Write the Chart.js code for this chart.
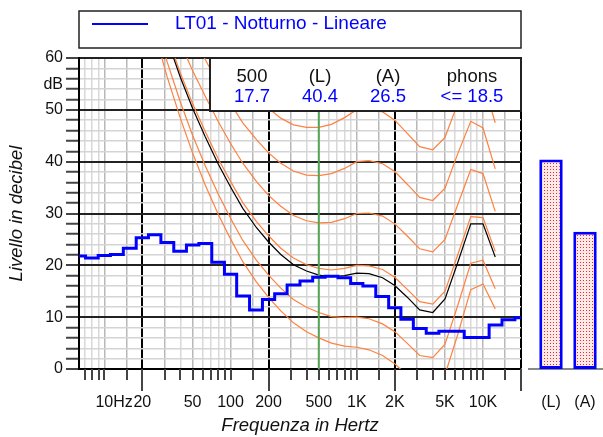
<!DOCTYPE html>
<html>
<head>
<meta charset="utf-8">
<script src="https://cdn.jsdelivr.net/npm/chart.js@4/dist/chart.umd.min.js"></script>
<style>
  html, body { margin: 0; padding: 0; background: #fff; }
  #wrap { position: relative; width: 603px; height: 437px; }
  #main { position: absolute; left: 0; top: 0; }
  #bars { position: absolute; left: 528px; top: 0; }
</style>
</head>
<body>
<div id="wrap">
  <canvas id="main" width="603" height="437"></canvas>
  <canvas id="bars" width="75" height="437"></canvas>
</div>
<script>
// third-octave spectrum (blue steps)
const bandFreqs = [6.3, 8, 10, 12.5, 16, 20, 25, 31.5, 40, 50, 63, 80, 100, 125, 160, 200, 250, 315, 400, 500,
    630, 800, 1000, 1250, 1600, 2000, 2500, 3150, 4000, 5000, 6300, 8000, 10000, 12500, 16000, 20000];
const bandLevels = [21.8, 21.4, 21.9, 22.1, 23.3, 25.3, 25.9, 24.4, 22.7, 23.9, 24.2, 20.6, 18.3, 14.1, 11.4, 13.4, 14.5, 16.2, 17.0, 17.7,
    17.9, 17.6, 16.5, 16.0, 14.0, 11.8, 9.6, 7.8, 6.9, 7.3, 7.3, 6.1, 6.1, 8.5, 9.5, 9.9];

// isophonic curves (orange) and the curve of the tonal component (black)
const isoFreqs = [20, 25, 31.5, 40, 50, 63, 80, 100, 125, 160, 200, 250, 315, 400, 500, 630, 800, 1000, 1250, 1600,
    2000, 2500, 3150, 4000, 5000, 6300, 8000, 10000, 12500];
const threshold = [74.3, 65.0, 56.3, 48.4, 41.7, 35.5, 29.8, 25.1, 20.7, 16.8, 13.8, 11.2, 8.9, 7.2, 6.0, 5.0, 4.4, 4.2, 3.7, 2.6,
    1.0, -1.2, -3.6, -3.9, -1.1, 6.6, 15.3, 16.4, 11.6];
const phon10 = [76.8, 67.7, 59.2, 51.5, 45.1, 39.2, 33.7, 29.1, 24.8, 21.0, 18.1, 15.6, 13.4, 11.9, 10.9, 10.1, 9.9, 10.0, 9.7, 8.7,
    7.2, 5.0, 2.6, 2.2, 4.8, 12.2, 20.4, 21.0, 15.5];
const phon20 = [81.3, 72.5, 64.3, 57.1, 51.2, 45.8, 40.5, 36.2, 32.1, 28.5, 25.7, 23.3, 21.4, 20.1, 19.4, 19.1, 19.4, 20.0, 19.9, 19.2,
    17.7, 15.4, 13.0, 12.5, 15.0, 22.0, 29.4, 29.2, 22.7];
const phon30 = [86.0, 77.6, 69.7, 62.9, 57.6, 52.6, 47.7, 43.5, 39.7, 36.2, 33.5, 31.4, 29.6, 28.6, 28.2, 28.3, 29.0, 30.0, 30.1, 29.5,
    28.0, 25.7, 23.2, 22.6, 25.0, 31.7, 38.5, 37.7, 30.4];
const phon40 = [91.0, 82.9, 75.4, 69.0, 64.3, 59.7, 55.0, 51.2, 47.5, 44.3, 41.7, 39.7, 38.2, 37.4, 37.3, 37.7, 38.7, 40.0, 40.2, 39.6,
    38.1, 35.7, 33.1, 32.5, 34.9, 41.5, 47.8, 46.5, 38.6];
const phon50 = [96.2, 88.5, 81.3, 75.4, 71.3, 67.1, 62.7, 59.1, 55.7, 52.7, 50.3, 48.4, 47.1, 46.6, 46.6, 47.2, 48.5, 50.0, 50.2, 49.6,
    48.0, 45.5, 42.9, 42.3, 44.7, 51.2, 57.2, 55.6, 47.5];
const tonalCurve = [80.6, 71.8, 63.5, 56.3, 50.3, 44.8, 39.5, 35.1, 31.0, 27.3, 24.5, 22.1, 20.1, 18.9, 18.1, 17.8, 18.0, 18.5, 18.4, 17.6,
    16.1, 13.9, 11.4, 10.9, 13.5, 20.5, 28.0, 28.0, 21.6];
const tonalFreq = 500;

// summary box and side bars
const boxHeads = ['500', '(L)', '(A)', 'phons'];
const boxValues = ['17.7', '40.4', '26.5', '<= 18.5'];
const barLabels = ['(L)', '(A)'];
const barValues = [40.4, 26.5];

// x axis ticks and labels
const xTicks = [7, 8, 9, 10, 15, 20, 30, 40, 50, 60, 70, 80, 90, 100, 150, 200, 300, 400, 500, 600, 700, 800, 900, 1000, 1500,
    2000, 3000, 4000, 5000, 6000, 7000, 8000, 9000, 10000, 15000, 20000];
const xLabels = { 10: '10Hz', 20: '20', 50: '50', 100: '100', 200: '200', 500: '500', 1000: '1K', 2000: '2K', 5000: '5K', 10000: '10K' };
const xMajor = [20, 200, 2000, 20000];
const xDarker = [10, 15, 30, 50, 100, 150, 300, 500, 1000, 1500, 3000, 5000, 10000, 15000];

const FONT = "'Liberation Sans', Arial, sans-serif";
Chart.defaults.font.family = FONT;
Chart.defaults.color = '#111';

const iso = vals => isoFreqs.map((f, i) => ({ x: f, y: vals[i] }));
const orange = '#ff8040';

const decor = {
    id: 'decor',
    afterDraw(chart) {
        const ctx = chart.ctx;
        const xs = chart.scales.x, ys = chart.scales.y;
        const area = chart.chartArea;
        ctx.save();

        // ticks below the frequency axis
        ctx.strokeStyle = '#444';
        ctx.lineWidth = 2;
        xTicks.forEach(v => {
            const px = Math.round(xs.getPixelForValue(v));
            const len = xMajor.includes(v) ? 22 : 11;
            ctx.beginPath();
            ctx.moveTo(px, area.bottom);
            ctx.lineTo(px, area.bottom + len);
            ctx.stroke();
        });

        // frequency labels
        ctx.fillStyle = '#111';
        ctx.font = '16px ' + FONT;
        ctx.textBaseline = 'alphabetic';
        Object.keys(xLabels).forEach(k => {
            const px = xs.getPixelForValue(+k);
            const txt = xLabels[k];
            if (txt === '10Hz') {
                ctx.textAlign = 'left';
                ctx.fillText(txt, px - ctx.measureText('10').width / 2, 406.5);
            } else {
                ctx.textAlign = 'center';
                ctx.fillText(txt, px, 406.5);
            }
        });

        // dB unit
        ctx.textAlign = 'right';
        ctx.textBaseline = 'middle';
        ctx.fillText('dB', 63, ys.getPixelForValue(54.8));

        // summary box
        const bx = 210, by = area.top, bw = area.right - 210, bh = 53;
        ctx.fillStyle = '#fff';
        ctx.fillRect(bx, by, bw, bh);
        ctx.strokeStyle = '#222';
        ctx.lineWidth = 2;
        ctx.strokeRect(bx, by, bw, bh);
        const cols = [252, 320, 388, 472];
        ctx.font = '18.5px ' + FONT;
        ctx.textAlign = 'center';
        ctx.textBaseline = 'alphabetic';
        boxHeads.forEach((t, i) => { ctx.fillStyle = '#111'; ctx.fillText(t, cols[i], 81.5); });
        boxValues.forEach((t, i) => { ctx.fillStyle = '#0000ff'; ctx.fillText(t, cols[i], 102); });

        // legend box
        ctx.strokeStyle = '#222';
        ctx.lineWidth = 1.5;
        ctx.strokeRect(area.left, 11, area.right - area.left, 37);
        ctx.strokeStyle = '#0000ff';
        ctx.lineWidth = 2;
        ctx.beginPath();
        ctx.moveTo(92, 24);
        ctx.lineTo(148, 24);
        ctx.stroke();
        ctx.fillStyle = '#0000ff';
        ctx.font = '19px ' + FONT;
        ctx.textAlign = 'left';
        ctx.fillText('LT01 - Notturno - Lineare', 175, 28.5);
        ctx.restore();
    }
};

new Chart(document.getElementById('main'), {
    type: 'line',
    data: {
        datasets: [
            {
                label: 'LT01 - Notturno - Lineare',
                data: bandFreqs.map((f, i) => ({ x: f, y: bandLevels[i] })),
                borderColor: '#0000ff', borderWidth: 3, stepped: 'middle', pointRadius: 0
            },
            {
                data: [{ x: tonalFreq, y: 0 }, { x: tonalFreq, y: 60 }],
                borderColor: '#55a455', borderWidth: 2, pointRadius: 0
            },
            { data: iso(tonalCurve), borderColor: '#000', borderWidth: 1.2, pointRadius: 0 },
            { data: iso(threshold), borderColor: orange, borderWidth: 1.2, pointRadius: 0 },
            { data: iso(phon10), borderColor: orange, borderWidth: 1.2, pointRadius: 0 },
            { data: iso(phon20), borderColor: orange, borderWidth: 1.2, pointRadius: 0 },
            { data: iso(phon30), borderColor: orange, borderWidth: 1.2, pointRadius: 0 },
            { data: iso(phon40), borderColor: orange, borderWidth: 1.2, pointRadius: 0 },
            { data: iso(phon50), borderColor: orange, borderWidth: 1.2, pointRadius: 0 }
        ]
    },
    options: {
        responsive: false,
        animation: false,
        layout: { padding: { left: 0, right: 82, top: 58, bottom: 0 } },
        plugins: { legend: { display: false }, tooltip: { enabled: false } },
        scales: {
            x: {
                type: 'logarithmic',
                min: 6.3,
                max: 20000,
                afterBuildTicks: s => { s.ticks = xTicks.map(v => ({ value: v })); },
                afterFit: s => { s.height = 68; },
                ticks: { display: false },
                grid: {
                    drawTicks: false,
                    color: c => xMajor.includes(c.tick.value) ? '#000' : (xDarker.includes(c.tick.value) ? '#b8b8b8' : '#d8d8d8'),
                    lineWidth: c => xMajor.includes(c.tick.value) ? 2 : 1.5
                },
                border: { color: '#000', width: 2 },
                title: {
                    display: true, text: 'Frequenza in Hertz', color: '#111',
                    font: { size: 18.5, style: 'italic' }, padding: { top: 0, bottom: 0 }
                }
            },
            y: {
                min: 0,
                max: 60,
                afterFit: s => { s.width = 79; },
                ticks: {
                    stepSize: 2, maxTicksLimit: 40, autoSkip: false, padding: 3, color: '#111', font: { size: 16 },
                    callback: v => (Math.round(v) % 10 === 0 ? Math.round(v) : '')
                },
                grid: {
                    tickLength: 13,
                    tickColor: '#444',
                    tickWidth: 2,
                    color: c => (Math.round(c.tick.value) % 10 === 0 ? '#222' : '#d4d4d4'),
                    lineWidth: c => (Math.round(c.tick.value) % 10 === 0 ? 2 : 1.5)
                },
                border: { color: '#000', width: 2 },
                title: {
                    display: true, text: 'Livello in decibel', color: '#111',
                    font: { size: 18.5, style: 'italic' }, padding: { top: 6, bottom: 0 }
                }
            }
        }
    },
    plugins: [decor]
});

// dotted fill for the side bars
const pc = document.createElement('canvas');
pc.width = 3; pc.height = 3;
const pctx = pc.getContext('2d');
pctx.fillStyle = '#ffeaea';
pctx.fillRect(0, 0, 3, 3);
pctx.fillStyle = '#ff2020';
pctx.fillRect(1, 1, 1, 1);
const barCanvas = document.getElementById('bars');
const dotPattern = barCanvas.getContext('2d').createPattern(pc, 'repeat');

const barDecor = {
    id: 'barDecor',
    beforeDatasetsDraw(chart) {
        const ctx = chart.ctx;
        const y0 = chart.scales.y.getPixelForValue(0);
        ctx.save();
        ctx.strokeStyle = '#888';
        ctx.lineWidth = 2;
        ctx.beginPath();
        ctx.moveTo(0, y0);
        ctx.lineTo(chart.width, y0);
        ctx.stroke();
        ctx.restore();
    },
    afterDraw(chart) {
        const ctx = chart.ctx;
        ctx.save();
        ctx.fillStyle = '#111';
        ctx.font = '16px ' + FONT;
        ctx.textAlign = 'center';
        barLabels.forEach((t, i) => ctx.fillText(t, chart.scales.x.getPixelForValue(i), 406.5));
        ctx.restore();
    }
};

new Chart(barCanvas, {
    type: 'bar',
    data: {
        labels: barLabels,
        datasets: [{
            data: barValues,
            backgroundColor: dotPattern,
            borderColor: '#0000ff',
            borderWidth: 3,
            borderSkipped: false,
            barPercentage: 0.69,
            categoryPercentage: 1
        }]
    },
    options: {
        responsive: false,
        animation: false,
        layout: { padding: { left: 6, right: 1, top: 58, bottom: 68 } },
        plugins: { legend: { display: false }, tooltip: { enabled: false } },
        scales: {
            x: { display: false },
            y: { display: false, min: 0, max: 60 }
        }
    },
    plugins: [barDecor]
});
</script>
</body>
</html>
